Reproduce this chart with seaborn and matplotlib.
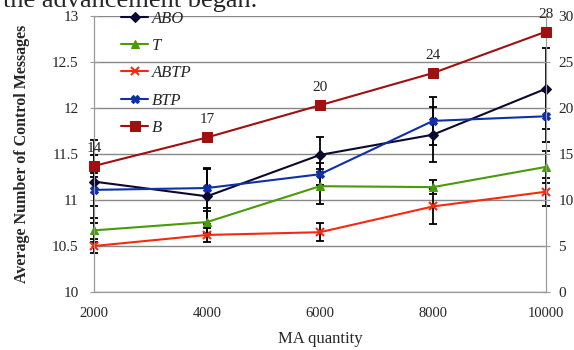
import numpy as np
import pandas as pd
import seaborn as sns
import matplotlib.pyplot as plt

# data
ma_qty = [2000, 4000, 6000, 8000, 10000]
abo = [11.20, 11.04, 11.49, 11.71, 12.21]
abo_err = [0.45, 0.30, 0.19, 0.30, 0.44]
t = [10.67, 10.76, 11.15, 11.14, 11.36]
t_err = [0.13, 0.12, 0.19, 0.08, 0.17]
abtp = [10.50, 10.62, 10.65, 10.93, 11.09]
abtp_err = [0.08, 0.08, 0.10, 0.19, 0.15]
btp = [11.11, 11.13, 11.28, 11.86, 11.91]
btp_err = [0.18, 0.22, 0.12, 0.26, 0.28]
# B is plotted against the right axis
b = [13.7, 16.8, 20.3, 23.8, 28.3]
b_err = [1.2, 0.0, 0.0, 0.0, 0.0]
b_labels = ['14', '17', '20', '24', '28']

series = ['ABO', 'T', 'ABTP', 'BTP']
colors = {'ABO': '#0a0a30', 'T': '#4a9a0a', 'ABTP': '#f42a10', 'BTP': '#1030a8', 'B': '#a01010'}
markers = {'ABO': 'D', 'T': '^', 'ABTP': 'x', 'BTP': 'X'}
msize = {'ABO': 5, 'T': 6, 'ABTP': 6, 'BTP': 6}

df = pd.DataFrame({
    'MA': ma_qty * 4,
    'val': abo + t + abtp + btp,
    'err': abo_err + t_err + abtp_err + btp_err,
    'series': np.repeat(series, len(ma_qty)),
})

sns.set_style('white')
plt.rcParams['font.family'] = ['Liberation Serif', 'DejaVu Serif']

fig = plt.figure(figsize=(5.74, 3.5), dpi=100)
ax = fig.add_axes([94/574, 58/350, 452/574, 276/350])


def noclip(container):
    for art in container.get_children():
        art.set_clip_on(False)


# error bars first (black)
for s in series:
    d = df[df.series == s]
    eb = ax.errorbar(d.MA, d.val, yerr=d.err, fmt='none', ecolor='black', elinewidth=1.3,
                     capsize=3, capthick=1.3, zorder=2)
    noclip(eb)

for s in series:
    d = df[df.series == s]
    sns.lineplot(x=d.MA, y=d.val, ax=ax, color=colors[s], marker=markers[s], markersize=msize[s],
                 markeredgecolor=colors[s], markeredgewidth=1.5 if markers[s] == 'x' else 0.8,
                 linewidth=1.5, label=s, zorder=3)

ax2 = ax.twinx()
eb = ax2.errorbar(ma_qty, b, yerr=b_err, fmt='none', ecolor='black', elinewidth=1.3,
                  capsize=3, capthick=1.3, zorder=2)
noclip(eb)
sns.lineplot(x=ma_qty, y=b, ax=ax2, color=colors['B'], marker='s', markersize=7,
             markeredgecolor=colors['B'], linewidth=1.5, zorder=3)
for x, y, lab in zip(ma_qty, b, b_labels):
    ax2.annotate(lab, (x, y), xytext=(0, 8), textcoords='offset points', ha='center',
                 va='bottom', fontsize=11)

for a in (ax, ax2):
    for ln in a.get_lines():
        ln.set_clip_on(False)

ax.set_xlim(2000, 10000)
ax.set_ylim(10, 13)
ax.set_yticks(np.arange(10, 13.01, 0.5))
ax.set_yticklabels(['10', '10.5', '11', '11.5', '12', '12.5', '13'])
ax.set_xticks(ma_qty)
ax2.set_ylim(0, 30)
ax2.set_yticks(range(0, 31, 5))

ax.yaxis.grid(True, color='#888888', linewidth=1)
for sp in ['left', 'right', 'bottom']:
    ax.spines[sp].set_color('#999999')
    ax2.spines[sp].set_color('#999999')
ax.spines['top'].set_visible(False)
ax2.spines['top'].set_visible(False)
ax.tick_params(axis='y', labelsize=11, length=6, color='#999999', direction='inout', pad=8)
ax.tick_params(axis='x', labelsize=10.5, pad=8, direction='inout', length=6, color='#999999')
ax2.tick_params(axis='y', labelsize=11, length=6, color='#999999', direction='inout', pad=6)

ax.set_xlabel('MA quantity', fontsize=12, labelpad=8)
ax.set_ylabel('Average Number of Control Messages', fontsize=11.5, fontweight='bold', labelpad=16)
ax2.set_ylabel('')

h1, l1 = ax.get_legend_handles_labels()
h2 = ax2.get_lines()[-1]
ax.legend(h1 + [h2], l1 + ['B'], loc='upper left', bbox_to_anchor=(0.046, 1.044), frameon=False,
          prop={'style': 'italic', 'size': 12}, labelspacing=0.68, handlelength=1.6,
          handletextpad=0.2, borderaxespad=0)
if ax2.get_legend():
    ax2.get_legend().remove()

fig.text(0.005, 0.98, 'the advancement began.', fontsize=19, va='baseline', ha='left')

fig.savefig('out.png', dpi=100)
